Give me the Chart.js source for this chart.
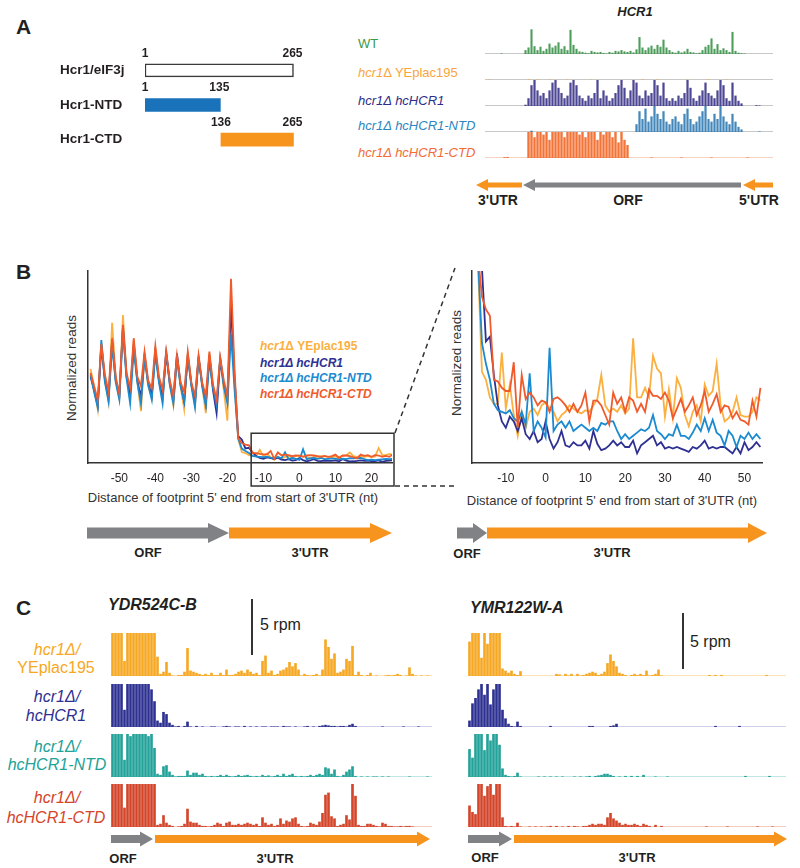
<!DOCTYPE html>
<html><head><meta charset="utf-8"><title>Hcr1 figure</title>
<script src="https://cdn.jsdelivr.net/npm/chart.js@4.4.1/dist/chart.umd.min.js"></script>
<style>
html,body{margin:0;padding:0;background:#fff}
body{width:800px;height:868px;position:relative;overflow:hidden;font-family:"Liberation Sans",Arial,Helvetica,sans-serif;color:#231f20}
canvas{position:absolute}
.t{position:absolute;white-space:nowrap;line-height:1}
.c{transform:translate(-50%,-50%)}
.l{transform:translate(0,-50%)}
.r{transform:translate(-50%,-50%) rotate(-90deg)}
.b{font-weight:bold}
.i{font-style:italic}
#ov{position:absolute;left:0;top:0}
</style></head><body>
<!-- Panel A -->
<div class="t l b" style="left:16px;top:26px;font-size:21px">A</div>
<div class="t c b i" style="left:635px;top:11px;font-size:13px">HCR1</div>
<div class="t l" style="left:358px;top:43px;font-size:13px;color:#3b9a4a">WT</div>
<div class="t l" style="left:358px;top:72px;font-size:13px;color:#f9a53b"><i>hcr1</i>Δ YEplac195</div>
<div class="t l i" style="left:358px;top:100px;font-size:13px;color:#2e2d88">hcr1Δ hcHCR1</div>
<div class="t l i" style="left:358px;top:125px;font-size:13px;color:#2b86c0">hcr1Δ hcHCR1-NTD</div>
<div class="t l i" style="left:358px;top:152px;font-size:13px;color:#f26b35">hcr1Δ hcHCR1-CTD</div>
<div class="t c b" style="left:498px;top:200px;font-size:14px">3'UTR</div>
<div class="t c b" style="left:628px;top:200px;font-size:14px">ORF</div>
<div class="t c b" style="left:759px;top:200px;font-size:14px">5'UTR</div>
<!-- Panel B -->
<div class="t l b" style="left:16px;top:271px;font-size:21px">B</div>
<div class="t r" style="left:72px;top:368px;font-size:13.5px;color:#333">Normalized reads</div>
<div class="t r" style="left:457px;top:363px;font-size:13.5px;color:#333">Normalized reads</div>
<div class="t l b" style="left:260px;top:346px;font-size:12px;color:#fbb040"><i>hcr1</i>Δ YEplac195</div>
<div class="t l b i" style="left:260px;top:363px;font-size:12px;color:#2e3192">hcr1Δ hcHCR1</div>
<div class="t l b i" style="left:260px;top:378px;font-size:12px;color:#1b8ad0">hcr1Δ hcHCR1-NTD</div>
<div class="t l b i" style="left:260px;top:394px;font-size:12px;color:#f15a2b">hcr1Δ hcHCR1-CTD</div>
<div class="t c" style="left:233px;top:497px;font-size:13px;color:#333">Distance of footprint 5' end from start of 3'UTR (nt)</div>
<div class="t c" style="left:612px;top:500px;font-size:13px;color:#333">Distance of footprint 5' end from start of 3'UTR (nt)</div>
<div class="t c b" style="left:148px;top:552px;font-size:13px">ORF</div>
<div class="t c b" style="left:310px;top:552px;font-size:13px">3'UTR</div>
<div class="t c b" style="left:467px;top:553px;font-size:13px">ORF</div>
<div class="t c b" style="left:612px;top:552px;font-size:13px">3'UTR</div>
<!-- Panel C -->
<div class="t l b" style="left:16px;top:607px;font-size:21px">C</div>
<div class="t l b i" style="left:108px;top:605px;font-size:16px">YDR524C-B</div>
<div class="t l b i" style="left:470px;top:608px;font-size:16px">YMR122W-A</div>
<div class="t l" style="left:260px;top:625px;font-size:16px">5 rpm</div>
<div class="t l" style="left:690px;top:642px;font-size:16px">5 rpm</div>
<div class="t c i" style="left:57px;top:650px;font-size:16px;color:#f7a823">hcr1Δ/</div>
<div class="t c" style="left:56px;top:668px;font-size:16px;color:#f7a823">YEplac195</div>
<div class="t c i" style="left:57px;top:697px;font-size:16px;color:#2e3192">hcr1Δ/</div>
<div class="t c i" style="left:56px;top:716px;font-size:16px;color:#2e3192">hcHCR1</div>
<div class="t c i" style="left:57px;top:747px;font-size:16px;color:#22a298">hcr1Δ/</div>
<div class="t c i" style="left:57px;top:765px;font-size:16px;color:#22a298">hcHCR1-NTD</div>
<div class="t c i" style="left:57px;top:798px;font-size:16px;color:#d4452a">hcr1Δ/</div>
<div class="t c i" style="left:56px;top:818px;font-size:16px;color:#d4452a">hcHCR1-CTD</div>
<div class="t c b" style="left:123px;top:858px;font-size:13px">ORF</div>
<div class="t c b" style="left:275px;top:858px;font-size:13px">3'UTR</div>
<div class="t c b" style="left:485px;top:857px;font-size:13px">ORF</div>
<div class="t c b" style="left:637px;top:857px;font-size:13px">3'UTR</div>

<script>
// ---------- Panel A: domain constructs ----------
const domainNames = ['Hcr1/eIF3j', 'Hcr1-NTD', 'Hcr1-CTD'];
const domainStart = [1, 1, 136];
const domainEnd = [265, 135, 265];

// ---------- Panel A: HCR1 locus read tracks (96 bins) ----------
const hcr1WT = [0,0,0,0,0,0.2,0,0,0,0,0,0,0,
 1.5,2.5,9.5,3.0,1.5,2.8,1.2,2.0,4.0,2.5,3.2,4.5,2.0,3.0,1.5,9.3,3.5,
 2.0,1.0,0.8,0.5,0.3,1.2,0.8,0.6,0.8,0.4,0.2,0.8,0.5,1.2,1.0,1.5,1.0,0.8,1.2,0.6,
 1.8,6.5,2.5,1.5,2.5,3.2,2.0,3.5,2.8,5.5,2.5,1.5,0.8,0.5,1.2,0.6,1.0,2.0,0.8,0.6,
 0.3,0.5,1.5,2.8,3.5,6.0,2.0,3.8,1.5,2.2,1.5,0.8,8.5,1.2,0.5,0.3,0.2,0,0,0,
 0,0,0,0,0,0];
const hcr1YEplac = [0,0.2,0,0,0,0,0,0,0,0, 0,0,0,0,0.3,0,0,0.2,0,0, 0,0.2,0,0,0,0,0,0.2,0,0,
 0,0,0,0,0,0.2,0,0,0,0, 0,0,0,0,0,0,0,0,0,0, 0,0,0.3,0,0,0,0,0.3,0,0,
 0,0,0,0,0,0,0,0.2,0,0, 0,0,0,0,0.3,0,0,0,0,0, 0.2,0,0,0,0,0,0,0,0,0, 0,0,0.1,0,0,0];
const hcr1HC = [0,0,0,0,0,0,0,0,0,0,0,0,0,0.5,
 3,8,10,6,4,5,3,6,9,10,7,5,3,4,9,10,8,4,3,2,
 4,3,5,10,3,6,4,2,3,5,8,10,7,3,6,10,9,4,3,6,
 4,5,10,8,4,9,3,2,3,2,4,3,5,10,7,3,2,4,6,9,
 5,4,3,6,10,8,3,2,9,4,2,1,0,0,0,0,0.3,0.2,0,0,0,0];
const hcr1NTD = [0,0,0,0,0,0,0,0,0,0, 0,0,0,0,0,0.5,0,0,0,0, 0,0,0,0,0,0,0,0,0,0,
 0,0,0,0,0,0,0,0,0,0, 0,0,0,0,0,0,0,0,0,0,
 3,8,5,9,4,6,10,7,5,8,4,3,5,6,4,3,7,9,5,3,4,6,8,10,5,4,7,5,10,6,4,3,7,4,2,1,
 0,0,0,0,0,0.2,0,0,0,0];
const hcr1CTD = [0,0,0,0,0,0,0.3,0.4,0,0,0,0,0,0,
 10,12,8,12,12,9,12,7,12,12,10,12,8,12,12,12,11,9,12,8,12,10,12,7,12,9,12,11,8,12,6,10,7,5,
 0,0,0,0,0,0,0,0.2,0,0, 0,0,0,0,0,0,0,0.2,0,0, 0,0,0,0,0,0,0,0.2,0,0,
 0,0,0,0,0,0,0,0,0,0.2, 0,0,0,0,0,0,0,0];

// ---------- Panel B: metagene profiles, position (nt) from -58 to 54 ----------
const ntFirst = -58;
const ntTicks = [-50, -40, -30, -20, -10, 0, 10, 20, 30, 40, 50];
const bYEplac = [49,40,28,62,44,32,73,44,34,77, 46,36,64,42,27,57,40,34,60,43,
 33,57,41,30,55,40,28,57,41,30, 55,40,26,57,40,31,54,38,22,88,
 40,12.5,5.7,5.2,4.1,3.7,3.7,6.9,3.4,4.9, 3.0,1.7,3.2,2.2,3.2,3.4,3.0,3.6,3.8,3.4,
 3.2,2.6,3.0,3.2,3.6,3.4,3.2,3.1,3.3,3.2, 3.6,4.0,5.5,3.6,3.2,3.4,3.2,3.6,3.1,3.4,
 7.8,4.1,4.1,4.7,4.1,6.7,5.9,5.6,2.9,4.6, 2.8,5.3,4.7,3.0,2.3,3.2,3.6,2.6,4.9,4.2,
 4.5,6.2,3.6,2.6,2.8,3.2,4.1,3.0,2.9,2.9, 3.2,4.1,3.9];
const bHCR1 = [45,38,30,61,43,34,64,43,35,71, 45,36,62,43,34,56,42,35,58,43,
 34,57,42,33,57,41,32,56,41,32, 55,41,31,56,38,26,54,41,33,82,
 44,14,12.2,7.6,7.9,5.5,3.6,2.6,2.2,2.9, 2.6,2.0,2.8,1.8,1.5,2.0,1.3,1.5,2.6,1.5,
 0.9,1.3,2.0,1.1,1.0,1.3,1.1,1.1,1.4,0.9, 2.0,1.2,0.8,0.9,1.1,1.4,1.1,1.3,1.0,1.0,
 1.4,0.6,1.1,1.3,1.5,1.7,1.1,1.3,0.9,1.0, 0.9,1.0,0.9,0.8,0.7,1.0,0.9,1.1,1.4,0.9,
 1.0,0.9,1.0,1.0,0.8,0.6,1.0,0.6,1.3,0.8, 1.0,1.3,1.0];
const bNTD = [46,37,29,64,42,32,61,42,33,69, 44,31,59,42,31,55,41,33,57,42,
 31,59,41,31,54,40,32,56,40,29, 55,40,30,53,39,30,55,40,31,67,
 38,12.8,7.5,6.2,5.2,3.7,3.3,3.2,3.1,3.3, 2.8,2.6,3.2,2.4,5.6,2.0,2.6,2.2,1.6,7.2,
 2.0,2.4,2.6,2.2,2.6,2.0,2.2,2.4,2.2,2.0, 2.2,2.0,2.5,2.4,2.6,2.6,2.0,1.5,1.8,1.5,
 1.7,1.9,2.1,2.0,2.2,3.0,2.0,1.8,1.5,1.8, 1.7,2.4,1.7,1.7,1.5,1.9,2.4,2.0,2.8,2.0,
 2.7,1.9,1.7,1.1,2.0,1.7,1.0,1.7,1.5,1.9, 1.5,1.8,1.5];
const bCTD = [47,40,33,62,46,37,65,45,36,72, 47,39,65,45,40,58,43,39,61,45,
 38,58,43,35,56,42,37,58,42,35, 56,42,35,58,41,33,55,43,35,96,
 48,13,10.4,9.6,9.2,5.2,5.1,4.7,4.5,4.5, 6.3,2.2,5.5,4.0,4.4,4.1,3.6,3.9,3.8,3.2,
 4.0,4.1,3.9,3.6,3.2,3.7,3.2,3.6,4.4,2.6, 3.9,3.9,3.6,3.0,2.4,4.4,3.7,4.1,3.2,4.1,
 3.9,3.2,3.7,3.2,4.6,4.2,4.2,4.0,4.4,3.9, 2.8,3.4,4.0,3.2,3.6,4.1,3.0,3.6,4.5,3.2,
 3.7,4.3,3.2,3.6,3.5,2.8,3.2,2.7,2.6,2.4, 3.9,2.9,4.7];

// ---------- Panel C: YDR524C-B tracks (107 bins) ----------
const cYEplacL = [5,5,5,5,1.4,5,5,5,5,5, 5,5,5,5,5,1.8,0.2,0.4,1.3,0.3,
 0.05,0,0.1,0.1,0.4,2.6,0.5,0.4,0.3,0.2, 0.1,0.2,0.1,0.3,0.1,0.1,0.3,0.1,0.6,0.1,
 0.1,0.2,0.4,0.5,0.3,0.6,0.4,0.2,0.3,0.1, 1.4,1.9,0.3,0.5,0.1,0.2,0.5,0.6,0.8,1.3,
 0.9,1.2,0.6,0.05,0.2,0.1,0.05,0.1,0.2,0.05, 0.6,3.4,2.7,1.6,2.1,0.3,0.4,0.6,1.6,1.4,
 2.8,0.1,0.4,0.1,0,0.1,0.3,0,0.05,0, 0,0.05,0.1,0.05,0.1,0.2,0.1,0,0.05,0.8,
 0.2,0.05,0,0.05,0,0.05,0];
const cHCR1L = [5,5,5,5,1.6,5,5,5,5,5, 5,5,5,3.5,2.4,0.6,0.4,1.4,1.2,0.4,
 0.2,0.05,0.1,0,0.1,0.5,0.05,0,0.1,0, 0.05,0,0,0.05,0.05,0,0,0.05,0.1,0.05,
 0,0.05,0.05,0,0.1,0,0.05,0,0.05,0, 0.05,0.05,0,0.05,0.05,0.05,0,0.1,0.05,0.05,
 0,0.05,0,0,0.05,0.1,0,0.05,0,0.1, 0.15,0.2,0.15,0.1,0.1,0.05,0.1,0.1,0.05,0.2,
 0.3,0.1,0,0,0,0,0,0,0,0, 0.05,0,0,0,0,0,0,0.05,0,0,
 0,0,0.05,0,0,0,0];
const cNTDL = [4.2,5,4.1,5,1.6,5,3.8,5,5,4.0, 5,5,3.8,5,2.7,0.3,0.2,1.0,1.1,0.5,
 0.2,0.05,0.1,0.1,0.1,0.6,0.2,0.4,0.4,0.2, 0.3,0.1,0.05,0.1,0.05,0.1,0.2,0.1,0.2,0.1,
 0.05,0.1,0.2,0.1,0.15,0.2,0.1,0.05,0.1,0.05, 0.2,0.1,0.15,0.05,0.1,0.2,0.1,0.3,0.1,0.2,
 0.3,0.1,0.05,0.1,0.05,0.1,0.2,0.1,0.2,0.3, 0.2,0.9,0.8,0.3,0.7,0.1,0.05,0.2,0.5,0.7,
 1.0,0.1,0,0.05,0,0.05,0,0.05,0.05,0, 0.05,0,0.05,0,0,0,0,0,0,0.05,
 0,0,0,0,0,0.05,0];
const cCTDL = [4.0,5,4.3,5,1.8,5,4.0,5,5,5, 4.2,5,5,5,5,0.2,0.3,1.1,0.4,0.2,
 0.1,0,0.05,0.1,0.3,1.7,0.5,0.4,0.4,0.2, 0.1,0.1,0.05,0.1,0.2,0.4,0.3,0.1,0.4,0.5,
 0.2,0.2,0.3,0.2,0.3,0.4,0.3,0.2,0.3,0.1, 0.9,0.4,0.2,0.3,0.1,0.2,0.8,0.3,0.6,0.5,
 0.8,0.9,0.3,0.1,0.05,0.1,0.4,0.3,0.2,0.5, 1.3,3.0,3.2,1.0,0.8,0.1,0.2,0.3,1.1,0.7,
 4.0,2.9,0.2,0.1,0.1,0.3,0.3,0.2,0.1,0.05, 0.4,0.3,0.1,0.1,0.05,0.05,0.1,0.05,0.1,0.1,
 0.05,0,0,0,0,0,0];

// ---------- Panel C: YMR122W-A tracks (106 bins) ----------
const cYEplacR = [3.2,5,5,5,1.7,5,3.0,5,5,5, 5,0.7,0.5,0.3,0.5,0.2,0.1,0.45,0,0,
 0,0,0,0,0,0,0,0,0,0.2, 0.15,0,0.2,0.05,0.2,0,0.2,0.05,0.1,0.2,
 0.3,0.4,0.3,0.1,0.2,0.4,1.2,2.0,1.4,0.9, 0.3,0.2,0.1,0,0.1,0.2,0.1,0.2,0.1,0.5,
 0.05,0.1,0.2,0.6,0.05,0,0,0,0,0, 0,0,0,0,0,0,0,0,0,0,
 0.1,0,0.1,0,0.1,0,0,0,0,0, 0,0,0,0,0,0,0,0,0,0.1, 0,0,0,0,0,0];
const cHCR1R = [0.6,2.2,2.7,3.5,5,3.0,4.8,2.1,3.5,5, 4.8,1.6,0.8,0.3,0.1,0.05,0.5,0.1,0,0,
 0,0,0,0,0,0,0,0.1,0,0, 0,0,0,0,0,0,0,0,0,0,
 0.1,0.1,0,0,0,0,0,0.1,0.15,0.3, 0,0,0,0,0,0,0,0,0,0,
 0,0,0,0,0,0,0,0,0,0, 0,0,0,0,0,0,0,0,0,0,
 0,0,0.1,0,0,0,0,0,0,0, 0.1,0,0,0,0,0,0,0,0,0, 0,0,0,0,0,0];
const cNTDR = [2.6,1.8,5,4.0,5,2.5,5,3.4,5,5, 3.0,0.8,0.2,0.1,0.05,0.1,0.4,0.05,0,0,
 0,0,0,0.05,0,0.05,0,0.05,0,0.05, 0,0.05,0,0,0,0.05,0,0.05,0,0.05,
 0.1,0,0.1,0.15,0.2,0.3,0.3,0.2,0.1,0, 0.05,0,0.1,0,0.1,0,0.1,0,0.2,0,
 0,0,0.05,0,0,0,0.05,0,0,0, 0,0,0,0,0,0,0,0,0,0,
 0,0,0,0,0,0,0,0,0,0, 0,0,0.1,0,0,0,0,0,0,0, 0.1,0,0,0,0,0];
const cCTDR = [2.0,1.4,1.2,5,5,2.9,3.8,5,3.0,5, 5,0.9,0.1,0.05,0.1,0.05,0.4,0.05,0,0,
 0.05,0,0.05,0,0.05,0,0.05,0.1,0,0.1, 0,0.05,0,0.1,0,0.1,0.05,0,0.1,0.1,
 0.2,0.3,0.2,0.3,0.3,0.2,0.9,1.3,0.8,0.6, 0.4,0.2,0.3,0.2,0.2,0.3,0.2,0.1,0.3,0.2,
 0.1,0,0.2,0,0.1,0,0,0,0,0, 0,0,0,0,0,0,0,0,0,0.05,
 0,0,0,0,0,0,0.05,0,0,0, 0,0,0,0,0,0,0.05,0,0,0, 0,0.05,0,0,0,0];

// ---------- rendering ----------
const FONT = '"Liberation Sans", Arial, Helvetica, sans-serif';
Chart.defaults.font.family = FONT;
Chart.defaults.color = '#231f20';

function makeCanvas(left, top, w, h) {
  const cv = document.createElement('canvas');
  cv.width = w; cv.height = h;
  Object.assign(cv.style, {left: left + 'px', top: top + 'px', width: w + 'px', height: h + 'px'});
  document.body.appendChild(cv);
  return cv;
}
const base = {responsive: false, animation: false, devicePixelRatio: 1, events: []};

// Panel A domains (floating horizontal bars)
const endLabels = {id: 'endLabels', afterDatasetsDraw(chart) {
  const {ctx} = chart; const xs = chart.scales.x; const meta = chart.getDatasetMeta(0);
  ctx.save(); ctx.font = 'bold 12px ' + FONT; ctx.fillStyle = '#231f20';
  ctx.textAlign = 'center'; ctx.textBaseline = 'middle';
  meta.data.forEach((bar, i) => {
    const y = bar.y - 17;
    ctx.fillText(String(domainStart[i]), xs.getPixelForValue(domainStart[i]), y);
    ctx.fillText(String(domainEnd[i]), xs.getPixelForValue(domainEnd[i]) - 1, y);
  });
  ctx.restore();
}};
new Chart(makeCanvas(60, 45, 250, 120), {
  type: 'bar',
  data: {labels: domainNames, datasets: [{
    data: domainStart.map((s, i) => [s, domainEnd[i]]),
    backgroundColor: ['#ffffff', '#1a73ba', '#f7941d'],
    borderColor: ['#3a3a3a', '#1a73ba', '#f7941d'],
    borderWidth: [1.5, 0, 0], borderSkipped: false, barThickness: 13
  }]},
  options: Object.assign({}, base, {
    indexAxis: 'y',
    layout: {padding: {top: 6, bottom: 6, right: 10, left: 0}},
    plugins: {legend: {display: false}, tooltip: {enabled: false}},
    scales: {
      x: {display: false, min: 1, max: 276.6},
      y: {grid: {display: false, drawTicks: false}, border: {display: false},
          ticks: {crossAlign: 'far', padding: 0, font: {size: 13.5, weight: 'bold'}, color: '#231f20'},
          afterFit: s => { s.width = 85; }}
    }
  }),
  plugins: [endLabels]
});

// genome-browser style tracks
const baselinePlugin = {id: 'baseline', beforeDatasetsDraw(chart, args, opts) {
  const {ctx, chartArea: a} = chart;
  ctx.save(); ctx.strokeStyle = opts.color; ctx.lineWidth = 1;
  ctx.beginPath(); ctx.moveTo(a.left, a.bottom - 0.5); ctx.lineTo(a.right, a.bottom - 0.5); ctx.stroke();
  ctx.restore();
}};
function track(left, baseY, w, h, values, color, ymax, lineColor, bp) {
  const cv = makeCanvas(left, baseY - h, w, h);
  new Chart(cv, {
    type: 'bar',
    data: {labels: values.map((v, i) => i), datasets: [{data: values, backgroundColor: color, borderWidth: 0,
      barPercentage: bp, categoryPercentage: 1, clip: 0}]},
    options: Object.assign({}, base, {
      layout: {padding: 0},
      plugins: {legend: {display: false}, tooltip: {enabled: false}, baseline: {color: lineColor}},
      scales: {x: {display: false}, y: {display: false, min: 0, max: ymax}}
    }),
    plugins: [baselinePlugin]
  });
}
// Panel A tracks
track(485, 54, 288, 26, hcr1WT, 'rgba(46,140,62,0.85)', 10, '#c8c8c8', 0.7);
track(485, 80, 288, 26, hcr1YEplac, 'rgba(247,165,59,0.8)', 10, '#c8c8c8', 0.7);
track(485, 106, 288, 26, hcr1HC, 'rgba(46,40,130,0.85)', 10, '#c8c8c8', 0.75);
track(485, 132, 288, 26, hcr1NTD, 'rgba(35,115,175,0.85)', 10, '#c8c8c8', 0.75);
track(485, 158, 288, 26, hcr1CTD, 'rgba(242,101,34,0.9)', 10, '#f6d2c0', 0.8);
// Panel C tracks
const cCol = ['#f7a823', '#2e3192', '#22a298', '#d4452a'];
const cLine = ['#fde4b8', '#cfd0ea', '#c2e6e2', '#f4cbbf'];
const cBase = [676, 727, 777, 827];
[cYEplacL, cHCR1L, cNTDL, cCTDL].forEach((d, k) => track(111, cBase[k], 321, 43, d, cCol[k], 4, cLine[k], 0.88));
[cYEplacR, cHCR1R, cNTDR, cCTDR].forEach((d, k) => track(468, cBase[k], 318, 43, d, cCol[k], 4, cLine[k], 0.88));

// Panel B line charts
const bSeries = [
  {label: 'hcr1Δ hcHCR1-CTD', values: bCTD, color: '#f15a2b', order: 0},
  {label: 'hcr1Δ hcHCR1-NTD', values: bNTD, color: '#1b8ad0', order: 1},
  {label: 'hcr1Δ hcHCR1', values: bHCR1, color: '#2e3192', order: 2},
  {label: 'hcr1Δ YEplac195', values: bYEplac, color: '#fbb040', order: 3}
];
function lineDatasets() {
  return bSeries.map(s => ({label: s.label, order: s.order, borderColor: s.color, borderWidth: 1.8,
    pointRadius: 0, tension: 0, clip: 0, data: s.values.map((v, i) => ({x: ntFirst + i, y: v}))}));
}
function lineOptions(pad, xmin, xmax, ymax) {
  return Object.assign({}, base, {
    layout: {padding: pad},
    plugins: {legend: {display: false}, tooltip: {enabled: false}},
    scales: {
      x: {type: 'linear', min: xmin, max: xmax,
          grid: {display: false, drawTicks: false}, border: {display: true, color: '#333', width: 1.5},
          ticks: {stepSize: 10, padding: 8, maxRotation: 0, autoSkip: false, font: {size: 12}, color: '#231f20'},
          afterBuildTicks: s => { s.ticks = ntTicks.filter(v => v >= xmin && v <= xmax).map(v => ({value: v})); },
          afterFit: s => { s.height = 26; }},
      y: {min: 0, max: ymax, grid: {display: false, drawTicks: false},
          border: {display: true, color: '#333', width: 1.5}, ticks: {display: false},
          afterFit: s => { s.width = 0; }}
    }
  });
}
const zoomBox = {id: 'zoomBox', afterDraw(chart) {
  const {ctx, chartArea: a} = chart; const xs = chart.scales.x, ys = chart.scales.y;
  const l = xs.getPixelForValue(-13.4), t = ys.getPixelForValue(15.5);
  ctx.save(); ctx.strokeStyle = '#333'; ctx.lineWidth = 1.5;
  ctx.strokeRect(l, t, a.right + 2 - l, a.bottom + 23 - t); ctx.restore();
}};
new Chart(makeCanvas(40, 260, 370, 240), {type: 'line', data: {datasets: lineDatasets()},
  options: lineOptions({left: 48, right: 18, top: 11, bottom: 11}, -58.7, 25.7, 100), plugins: [zoomBox]});
new Chart(makeCanvas(440, 260, 340, 240), {type: 'line', data: {datasets: lineDatasets()},
  options: lineOptions({left: 32, right: 18, top: 11, bottom: 11}, -18.5, 54.4, 12)});

// schematic overlay: arrows, dashed zoom connectors, scale bars
const NS = 'http://www.w3.org/2000/svg';
const svg = document.createElementNS(NS, 'svg');
svg.setAttribute('width', 800); svg.setAttribute('height', 868); svg.id = 'ov';
document.body.appendChild(svg);
function el(name, attrs) { const e = document.createElementNS(NS, name); for (const k in attrs) e.setAttribute(k, attrs[k]); svg.appendChild(e); }
function arrow(x0, x1, y, sh, hh, hl, fill) {
  const d = x1 > x0 ? 1 : -1, xb = x1 - d * hl;
  const pts = [[x0, y - sh], [xb, y - sh], [xb, y - hh], [x1, y], [xb, y + hh], [xb, y + sh], [x0, y + sh]];
  el('polygon', {points: pts.map(p => p.join(',')).join(' '), fill});
}
const GRAY = '#808285', ORANGE = '#f7941d';
// A
arrow(522, 476, 185, 2.5, 6, 12, ORANGE);
arrow(741, 523, 185, 2.5, 6, 12, GRAY);
arrow(773, 743, 185, 2.5, 6, 12, ORANGE);
// B
arrow(87, 229, 533, 5.5, 10, 21, GRAY);
arrow(229, 392, 533, 5.5, 10, 22, ORANGE);
arrow(457, 487, 533, 5.5, 10, 14, GRAY);
arrow(487, 767, 533, 5.5, 10, 19, ORANGE);
// C
arrow(111, 153, 839, 4, 7.5, 13, GRAY);
arrow(155, 430, 839, 4, 7.5, 13, ORANGE);
arrow(468, 512, 839, 4, 7.5, 13, GRAY);
arrow(514, 787, 839, 4, 7.5, 13, ORANGE);
// zoom connectors
el('line', {x1: 395, y1: 433, x2: 455, y2: 268, stroke: '#333', 'stroke-width': 1.5, 'stroke-dasharray': '5,4'});
el('line', {x1: 395, y1: 486, x2: 455, y2: 486, stroke: '#333', 'stroke-width': 1.5, 'stroke-dasharray': '5,4'});
// 5 rpm scale bars
el('line', {x1: 252, y1: 599, x2: 252, y2: 655, stroke: '#333', 'stroke-width': 2});
el('line', {x1: 683, y1: 613, x2: 683, y2: 669, stroke: '#333', 'stroke-width': 2});
</script>
</body></html>
